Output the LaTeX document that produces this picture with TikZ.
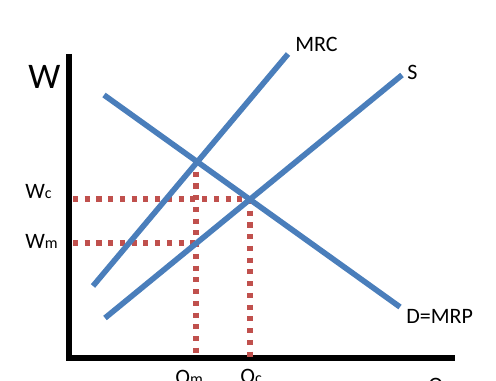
\documentclass[tikz,border=0pt]{standalone}
\usepackage{fontspec}
\setmainfont{Carlito}
\begin{document}
\begin{tikzpicture}[x=0.75pt,y=-0.75pt,
  axis/.style={line width=3.8pt,black},
  curve/.style={line width=4.2pt,color={rgb,255:red,74;green,126;blue,187}},
  dots/.style={line width=3.8pt,color={rgb,255:red,192;green,80;blue,77},dash pattern=on 3.8pt off 5pt},
  lbl/.style={inner sep=0pt,anchor=base west,font=\fontsize{16.5pt}{18pt}\selectfont},
  sub/.style={}]
\useasboundingbox (0,0) rectangle (496,381);
% axes
\coordinate (o) at (69,358);
\coordinate (ytop) at (69,54);
\coordinate (xend) at (455,358);
\draw[axis] (ytop) -- (o) -- (xend);
% curves
\coordinate (mrc1) at (93,286);
\coordinate (mrc2) at (288,54);
\coordinate (s1) at (105,318);
\coordinate (s2) at (402,75);
\coordinate (d1) at (104,95);
\coordinate (d2) at (400,307);
% intersections / guide points
\coordinate (A) at (196,160);
\coordinate (B) at (250,199);
\coordinate (C) at (196,243);
\coordinate (wcL) at (73,199);
\coordinate (wmL) at (73,243);
\coordinate (qm0) at (196,358);
\coordinate (qc0) at (250,358);
\draw[dots] (wcL) -- (B);
\draw[dots] (wmL) -- (C);
\draw[dots] (A) -- (qm0);
\draw[dots] (B) -- (qc0);
\draw[curve] (mrc1) -- (mrc2);
\draw[curve] (s1) -- (s2);
\draw[curve] (d1) -- (d2);
% labels
\node[lbl,font=\fontsize{27pt}{30pt}\selectfont] (W) at (28,89) {W};
\node[lbl] (Wc) at (25,199) {W{\fontsize{12pt}{14pt}\selectfont c}};
\node[lbl] (Wm) at (25,248) {W{\fontsize{12pt}{14pt}\selectfont m}};
\node[lbl] (MRC) at (295,52) {MRC};
\node[lbl] (S) at (407,80) {S};
\node[lbl] (D) at (406,323) {D=MRP};
\node[lbl] (Qm) at (175,384) {Q{\fontsize{12pt}{14pt}\selectfont m}};
\node[lbl] (Qc) at (240,383) {Q{\fontsize{12pt}{14pt}\selectfont c}};
\node[lbl] (Q) at (428,392) {Q};
\end{tikzpicture}
\end{document}
